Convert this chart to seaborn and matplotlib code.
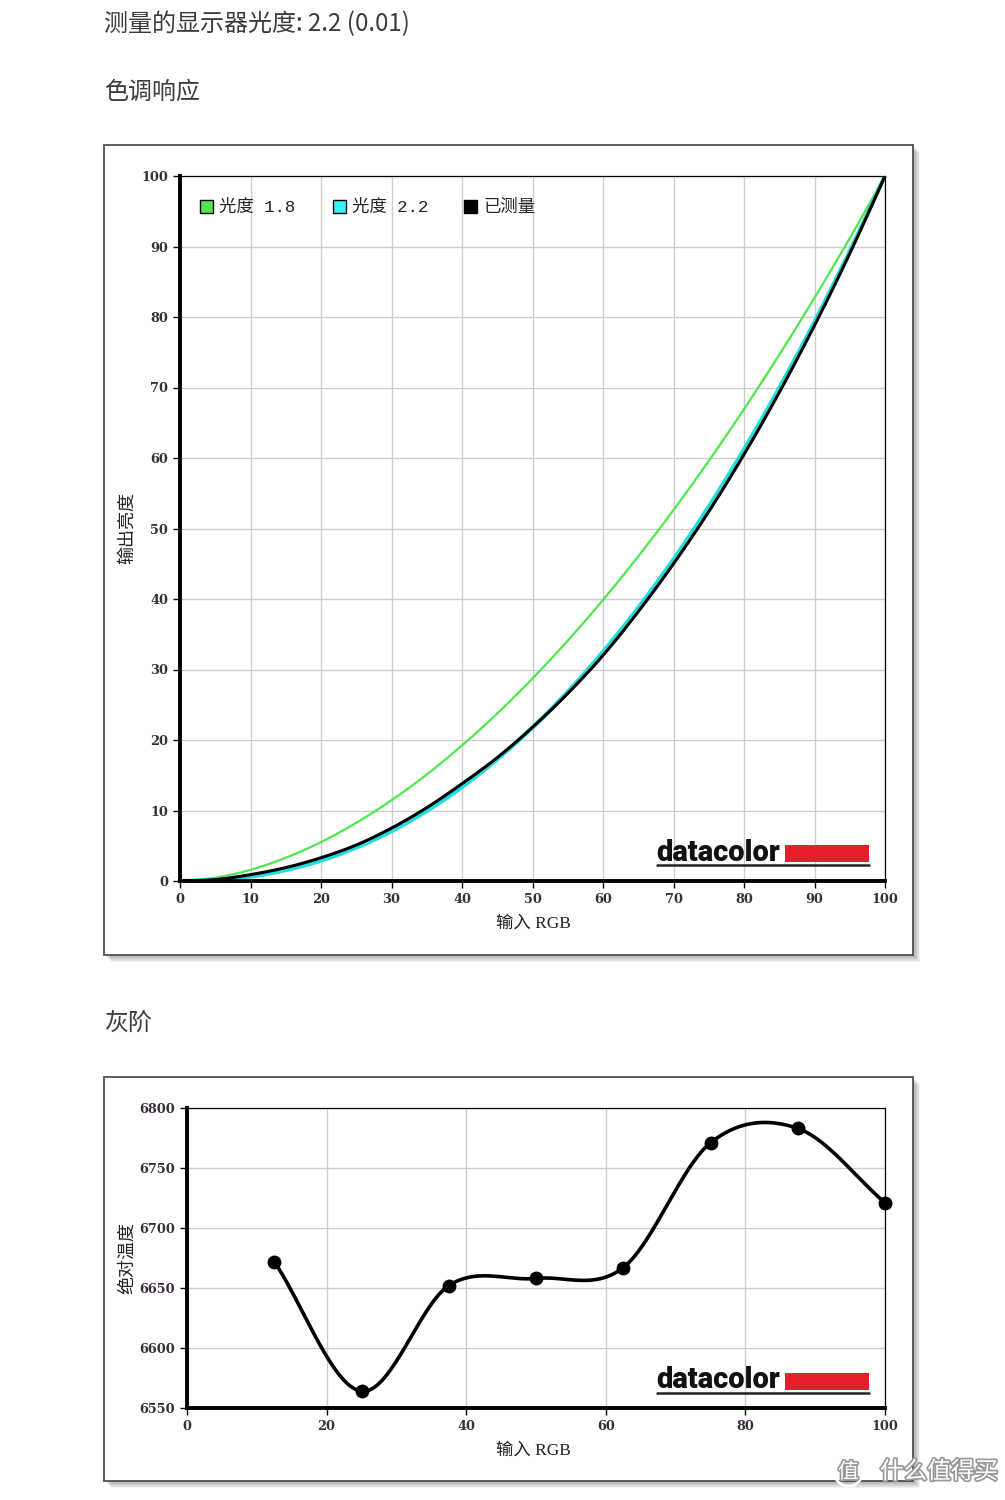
import numpy as np
import matplotlib
matplotlib.use("Agg")
import matplotlib.pyplot as plt
import seaborn as sns
from matplotlib.patches import Rectangle
from matplotlib.lines import Line2D
import matplotlib.patheffects as pe

# ---------------- data ----------------
page_title = "测量的显示器光度: 2.2 (0.01)"
tone_title = "色调响应"
gray_title = "灰阶"

rgb_input = [0, 5, 10, 15, 20, 25, 30, 35, 40, 45, 50, 55, 60, 65, 70, 75, 80, 85, 90, 95, 100]
gamma18 = [0, 0.46, 1.58, 3.29, 5.52, 8.25, 11.45, 15.11, 19.22, 23.76, 28.72, 34.09, 39.87,
           46.05, 52.62, 59.58, 66.92, 74.64, 82.72, 91.18, 100]
gamma22 = [0, 0.14, 0.63, 1.54, 2.90, 4.74, 7.07, 9.93, 13.32, 17.26, 21.76, 26.84, 32.50,
           38.76, 45.63, 53.11, 61.21, 69.94, 79.31, 89.33, 100]
measured = [0, 0.2, 0.9, 1.9, 3.3, 5.1, 7.5, 10.4, 13.8, 17.5, 21.8, 26.6, 32.0,
            38.2, 45.0, 52.4, 60.5, 69.3, 78.8, 89.0, 100]
tone_ticks = [0, 10, 20, 30, 40, 50, 60, 70, 80, 90, 100]
legend_labels = ["光度 1.8", "光度 2.2", "已测量"]

gray_input = [12.5, 25, 37.5, 50, 62.5, 75, 87.5, 100]
gray_cct = [6672, 6564, 6652, 6658, 6667, 6771, 6783, 6721]
gray_xticks = [0, 20, 40, 60, 80, 100]
gray_yticks = [6550, 6600, 6650, 6700, 6750, 6800]

x_label = "输入 RGB"
tone_ylabel = "输出亮度"
gray_ylabel = "绝对温度"

# ---------------- style ----------------
W, H = 1005, 1500
sns.set_theme(style="white")
plt.rcParams['font.family'] = ['DejaVu Serif', 'Noto Sans CJK SC']
fig = plt.figure(figsize=(W / 100, H / 100), dpi=100)
fig.patch.set_facecolor('white')

GREEN = '#4ee84e'
CYAN = '#22dede'
TICKC = '#3a2c3c'
CJK = ['Noto Sans CJK SC', 'DejaVu Sans']


def fx(x):
    return x / W


def fy(y):
    return 1 - y / H


def smooth_curve(x, y, per=60):
    """Catmull-Rom style cubic Hermite curve through the given points (display smoothing)."""
    x = np.asarray(x, float)
    y = np.asarray(y, float)
    n = len(x)
    m = np.zeros(n)
    m[0] = (y[1] - y[0]) / (x[1] - x[0])
    m[-1] = (y[-1] - y[-2]) / (x[-1] - x[-2])
    for i in range(1, n - 1):
        m[i] = (y[i + 1] - y[i - 1]) / (x[i + 1] - x[i - 1])
    xs_all, ys_all = [], []
    for i in range(n - 1):
        h = x[i + 1] - x[i]
        t = np.linspace(0, 1, per, endpoint=(i == n - 2))
        h00 = 2 * t ** 3 - 3 * t ** 2 + 1
        h10 = t ** 3 - 2 * t ** 2 + t
        h01 = -2 * t ** 3 + 3 * t ** 2
        h11 = t ** 3 - t ** 2
        xs_all.append(x[i] + t * h)
        ys_all.append(h00 * y[i] + h10 * h * m[i] + h01 * y[i + 1] + h11 * h * m[i + 1])
    return np.concatenate(xs_all), np.concatenate(ys_all)


def frame(x0, y0, x1, y1):
    for k in range(1, 8):
        fig.patches.append(Rectangle((fx(x0 + k), fy(y1 + k)), fx(x1) - fx(x0), fy(y0) - fy(y1),
                                     transform=fig.transFigure, facecolor='#000000',
                                     alpha=0.05, edgecolor='none', zorder=-10))
    fig.patches.append(Rectangle((fx(x0), fy(y1)), fx(x1) - fx(x0), fy(y0) - fy(y1),
                                 transform=fig.transFigure, facecolor='white',
                                 edgecolor='#505050', lw=1.3, zorder=-5))


def make_axes(x0, y0, x1, y1):
    ax = fig.add_axes([fx(x0), fy(y1), fx(x1) - fx(x0), fy(y0) - fy(y1)])
    ax.set_facecolor('white')
    for s in ['left', 'bottom']:
        ax.spines[s].set_linewidth(2.8)
        ax.spines[s].set_color('black')
    for s in ['top', 'right']:
        ax.spines[s].set_linewidth(0.9)
        ax.spines[s].set_color('black')
    ax.grid(True, color='#cdcdcd', lw=1.0)
    ax.set_axisbelow(True)
    ax.tick_params(axis='both', which='both', bottom=True, left=True, direction='out',
                   length=5, width=1.0, color='black', labelsize=9.3, labelcolor=TICKC)
    return ax


def logo(x_text, y_base, y_red_top, y_red_bot, y_line):
    fig.text(fx(x_text - 1), fy(y_base), "datacolor", family=['Roboto', 'DejaVu Sans'],
             fontweight='black', fontsize=21, color='#111111', ha='left', va='baseline')
    fig.patches.append(Rectangle((fx(785), fy(y_red_bot)), fx(869) - fx(785), fy(y_red_top) - fy(y_red_bot),
                                 transform=fig.transFigure, facecolor='#e3202b', edgecolor='none', zorder=5))
    fig.lines.append(Line2D([fx(657), fx(869)], [fy(y_line), fy(y_line)], transform=fig.transFigure,
                            color='#222222', lw=1.8, zorder=5))


# ---------------- page titles ----------------
fig.text(fx(104), fy(24), page_title, family=CJK, fontsize=17.3, color='#3c3c3c', ha='left', va='center')
fig.text(fx(104), fy(92), tone_title, family=CJK, fontsize=17.3, color='#3c3c3c', ha='left', va='center')
fig.text(fx(104), fy(1023), gray_title, family=CJK, fontsize=17.3, color='#3c3c3c', ha='left', va='center')

# ---------------- tone response chart ----------------
frame(104, 145, 913, 955)
ax1 = make_axes(180, 176, 885, 881)
xs, ys = smooth_curve(rgb_input, gamma18)
sns.lineplot(x=xs, y=ys, color=GREEN, lw=1.6, ax=ax1, sort=False, estimator=None)
xs, ys = smooth_curve(rgb_input, gamma22)
sns.lineplot(x=xs, y=ys, color=CYAN, lw=3.0, ax=ax1, sort=False, estimator=None)
xs, ys = smooth_curve(rgb_input, measured)
sns.lineplot(x=xs, y=ys, color='black', lw=2.2, ax=ax1, sort=False, estimator=None)
ax1.set_xlim(0, 100)
ax1.set_ylim(0, 100)
ax1.set_xticks(tone_ticks)
ax1.set_yticks(tone_ticks)
ax1.set_xticklabels([str(t) for t in tone_ticks], fontweight='bold')
ax1.set_yticklabels([str(t) for t in tone_ticks], fontweight='bold')
ax1.set_xlabel('')
ax1.set_ylabel('')

# legend
leg_items = [(200, GREEN), (333, '#33f4f4'), (464, 'black')]
for (lx, col), lab in zip(leg_items, legend_labels):
    fig.patches.append(Rectangle((fx(lx), fy(213)), fx(13), 13 / H, transform=fig.transFigure,
                                 facecolor=col, edgecolor='black', lw=1.0, zorder=6))
    fig.text(fx(lx + 19), fy(207), lab, family=['Liberation Mono', 'Noto Sans CJK SC'],
             fontsize=12.5, color='#222222', ha='left', va='center', zorder=6)

fig.text(fx(127), fy(528), tone_ylabel, family=CJK, fontsize=13, color='#222222',
         rotation=90, ha='center', va='center')
fig.text(fx(533), fy(924), x_label, family=['Liberation Serif', 'Noto Sans CJK SC'], fontsize=12.5,
         color='#222222', ha='center', va='center')
logo(657, 861, 845, 862, 865)

# ---------------- grayscale chart ----------------
frame(104, 1077, 913, 1481)
ax2 = make_axes(187, 1108, 885, 1408)
xs, ys = smooth_curve(gray_input, gray_cct)
sns.lineplot(x=xs, y=ys, color='black', lw=2.6, ax=ax2, sort=False, estimator=None)
sns.scatterplot(x=gray_input, y=gray_cct, color='black', s=100, ax=ax2, edgecolor='black',
                linewidth=0, zorder=5, clip_on=False)
ax2.set_xlim(0, 100)
ax2.set_ylim(6550, 6800)
ax2.set_xticks(gray_xticks)
ax2.set_yticks(gray_yticks)
ax2.set_xticklabels([str(t) for t in gray_xticks], fontweight='bold')
ax2.set_yticklabels([str(t) for t in gray_yticks], fontweight='bold')
ax2.set_xlabel('')
ax2.set_ylabel('')

fig.text(fx(127), fy(1258), gray_ylabel, family=CJK, fontsize=13, color='#222222',
         rotation=90, ha='center', va='center')
fig.text(fx(533), fy(1451), x_label, family=['Liberation Serif', 'Noto Sans CJK SC'], fontsize=12.5,
         color='#222222', ha='center', va='center')
logo(657, 1388, 1373, 1390, 1393)

# watermark
fig.text(fx(838), fy(1472), "值", family=CJK, fontsize=15, color='white', ha='left', va='center',
         bbox=dict(boxstyle='circle,pad=0.15', facecolor='none', edgecolor='white', lw=2),
         path_effects=[pe.withStroke(linewidth=2.5, foreground='#9a9a9a')], zorder=10)
fig.text(fx(880), fy(1472), "什么值得买", family=CJK, fontsize=17, color='white', ha='left', va='center',
         path_effects=[pe.withStroke(linewidth=2.5, foreground='#9a9a9a')], zorder=10)

fig.savefig('out.png', dpi=100, facecolor='white')
